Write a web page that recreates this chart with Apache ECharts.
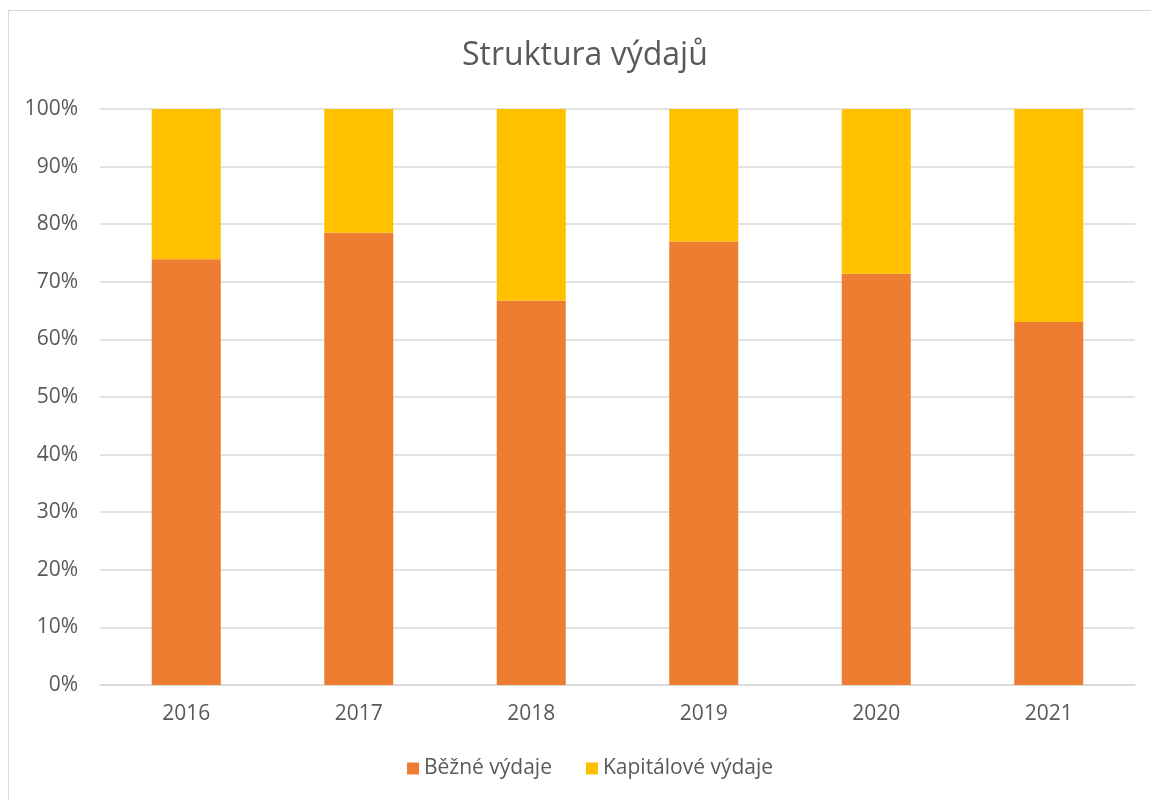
<!DOCTYPE html>
<html>
<head>
<meta charset="utf-8">
<script src="https://cdn.jsdelivr.net/npm/echarts@6/dist/echarts.min.js"></script>
<style>
    html, body { margin: 0; padding: 0; background: #fff; overflow: hidden; }
    .frame { position: absolute; left: 8px; top: 10px; width: 1160px; height: 800px; border: 1px solid #d9d9d9; box-sizing: border-box; }
    #chart { position: absolute; left: 0; top: 0; width: 1151px; height: 800px; }
</style>
</head>
<body>
<div class="frame"></div>
<div id="chart"></div>
<script>
// data (percent of total)
const years = ['2016', '2017', '2018', '2019', '2020', '2021'];
const bezne = [73.9, 78.5, 66.7, 77.0, 71.4, 63.0];
const kapitalove = [26.1, 21.5, 33.3, 23.0, 28.6, 37.0];
const seriesNames = ['Běžné výdaje', 'Kapitálové výdaje'];
const colors = ['#ed7d31', '#ffc000'];

const font = '"Open Sans", "Noto Sans", sans-serif';
const myChart = echarts.init(document.getElementById('chart'));

const option = {
    animation: false,
    color: colors,
    textStyle: { fontFamily: font },
    title: {
        text: 'Struktura výdajů',
        left: 457,
        top: 35,
        textStyle: { fontFamily: font, fontSize: 32, fontWeight: 'normal', color: '#595959' }
    },
    legend: {
        bottom: 16,
        left: 402,
        itemWidth: 12,
        itemHeight: 12,
        itemGap: 34,
        icon: 'rect',
        textStyle: { fontFamily: font, fontSize: 21, color: '#595959' },
        data: seriesNames
    },
    grid: {
        left: 100,
        right: 16,
        top: 109,
        bottom: 115
    },
    xAxis: {
        type: 'category',
        data: years,
        axisTick: { show: false },
        axisLine: { lineStyle: { color: '#d9d9d9', width: 1.5 } },
        axisLabel: { fontFamily: font, fontSize: 21, color: '#595959', margin: 19 }
    },
    yAxis: {
        type: 'value',
        min: 0,
        max: 100,
        interval: 10,
        axisLine: { show: false },
        axisTick: { show: false },
        splitLine: { lineStyle: { color: '#d9d9d9', width: 1.5 } },
        axisLabel: { fontFamily: font, fontSize: 21, color: '#595959', margin: 22, formatter: '{value}%' }
    },
    series: [
        {
            name: seriesNames[0],
            type: 'bar',
            stack: 'total',
            barCategoryGap: '60%',
            data: bezne
        },
        {
            name: seriesNames[1],
            type: 'bar',
            stack: 'total',
            barCategoryGap: '60%',
            data: kapitalove
        }
    ]
};

myChart.setOption(option);
</script>
</body>
</html>
